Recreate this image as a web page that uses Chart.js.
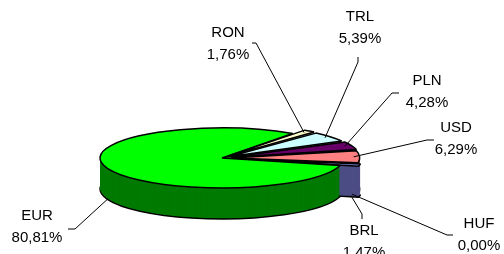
<!DOCTYPE html>
<html>
<head>
<meta charset="utf-8">
<script src="https://cdn.jsdelivr.net/npm/chart.js"></script>
<style>
	html, body { margin: 0; padding: 0; background: #fff; }
	#wrap { width: 504px; height: 254px; position: relative; }
</style>
</head>
<body>
<div id="wrap"><canvas id="currency_pie"></canvas></div>
<script>
// data
const currencies = ['BRL', 'EUR', 'RON', 'TRL', 'PLN', 'USD', 'HUF'];
const shares = [1.47, 80.81, 1.76, 5.39, 4.28, 6.29, 0.00];
const topColors = ['#9999FF', '#00FF00', '#FFFFCC', '#CCFFFF', '#660066', '#FF8080', '#0066CC'];
const sideColors = ['#4D4D85', '#007A00', '#8A8A6E', '#6E8A8A', '#330033', '#8A4545', '#003366'];

// where the flattened pie sits on the page
const CX = 222, CY = 158, RX = 122, RY = 30, DEPTH = 31;

// label text centre and leader line bend / tick end, per currency
const labelSpots = {
	BRL: { x: 364, y: 231, bend: [362, 214], tick: [362, 219] },
	EUR: { x: 37, y: 216, bend: [75, 229], tick: [68, 229] },
	RON: { x: 228, y: 33, bend: [256, 43], tick: [252, 43] },
	TRL: { x: 360, y: 17, bend: [358, 62], tick: [358, 57] },
	PLN: { x: 427, y: 81, bend: [392, 93], tick: [399, 93] },
	USD: { x: 456, y: 128, bend: [427, 140], tick: [434, 140] },
	HUF: { x: 479, y: 224, bend: [447, 235], tick: [453, 235] }
};

function pctText(v) {
	return v.toFixed(2).replace('.', ',') + '%';
}

// draw one arc element with other colours, keeping its geometry
function drawArcWith(arc, ctx, opts) {
	const p = Object.create(arc);
	p.options = Object.assign({}, arc.options, opts);
	arc.draw.call(p, ctx);
}

function flatView(chart, ctx, dy) {
	const a = chart.getDatasetMeta(0).data[0];
	ctx.translate(CX, CY + dy);
	ctx.scale(RX / a.outerRadius, RY / a.outerRadius);
	ctx.translate(-a.x, -a.y);
}

const pie3d = {
	id: 'pie3d',
	beforeDatasetsDraw(chart) {
		const ctx = chart.ctx;
		const arcs = chart.getDatasetMeta(0).data;
		// strokes in screen space so the outline keeps an even width
		const origStroke = ctx.stroke;
		ctx.stroke = function() {
			this.save();
			this.setTransform(1, 0, 0, 1, 0, 0);
			origStroke.apply(this, arguments);
			this.restore();
		};
		for (let dy = DEPTH; dy >= 0; dy--) {
			ctx.save();
			flatView(chart, ctx, dy);
			arcs.forEach((arc, i) => {
				if (dy === 0) {
					drawArcWith(arc, ctx, { backgroundColor: topColors[i], borderColor: '#000', borderWidth: 1.5 });
				} else if (dy === DEPTH) {
					drawArcWith(arc, ctx, { backgroundColor: sideColors[i], borderColor: '#000', borderWidth: 1.5 });
				} else {
					drawArcWith(arc, ctx, { backgroundColor: sideColors[i], borderWidth: 0 });
				}
			});
			ctx.restore();
		}
		ctx.stroke = origStroke;
		return false;
	},
	afterDraw(chart) {
		const ctx = chart.ctx;
		const arcs = chart.getDatasetMeta(0).data;
		const a0 = arcs[0];
		const sx = RX / a0.outerRadius, sy = RY / a0.outerRadius;
		ctx.save();
		ctx.strokeStyle = '#000';
		ctx.lineWidth = 1;
		ctx.fillStyle = '#000';
		ctx.font = '15px "Liberation Sans", Arial, sans-serif';
		ctx.textAlign = 'center';
		ctx.textBaseline = 'middle';
		arcs.forEach((arc, i) => {
			const spot = labelSpots[currencies[i]];
			const mid = (arc.startAngle + arc.endAngle) / 2;
			const r = arc.outerRadius + (arc.options.offset || 0) / 4;
			let ax = CX + Math.cos(mid) * r * sx;
			let ay = CY + Math.sin(mid) * r * sy;
			if (Math.sin(mid) > 0.1) ay += DEPTH;
			ctx.beginPath();
			ctx.moveTo(ax, ay);
			ctx.lineTo(spot.bend[0], spot.bend[1]);
			ctx.lineTo(spot.tick[0], spot.tick[1]);
			ctx.stroke();
			ctx.fillText(currencies[i], spot.x, spot.y);
			ctx.fillText(pctText(shares[i]), spot.x, spot.y + 22);
		});
		ctx.restore();
	}
};

new Chart(document.getElementById('currency_pie'), {
	type: 'pie',
	data: {
		labels: currencies,
		datasets: [{
			data: shares,
			backgroundColor: topColors,
			borderColor: '#000',
			borderWidth: 1.5,
			offset: currencies.map(c => c === 'EUR' ? 0 : 32)
		}]
	},
	options: {
		responsive: true,
		maintainAspectRatio: false,
		animation: false,
		events: [],
		rotation: 99.2,
		layout: { padding: 10 },
		plugins: {
			legend: { display: false },
			tooltip: { enabled: false }
		}
	},
	plugins: [pie3d]
});
</script>
</body>
</html>
